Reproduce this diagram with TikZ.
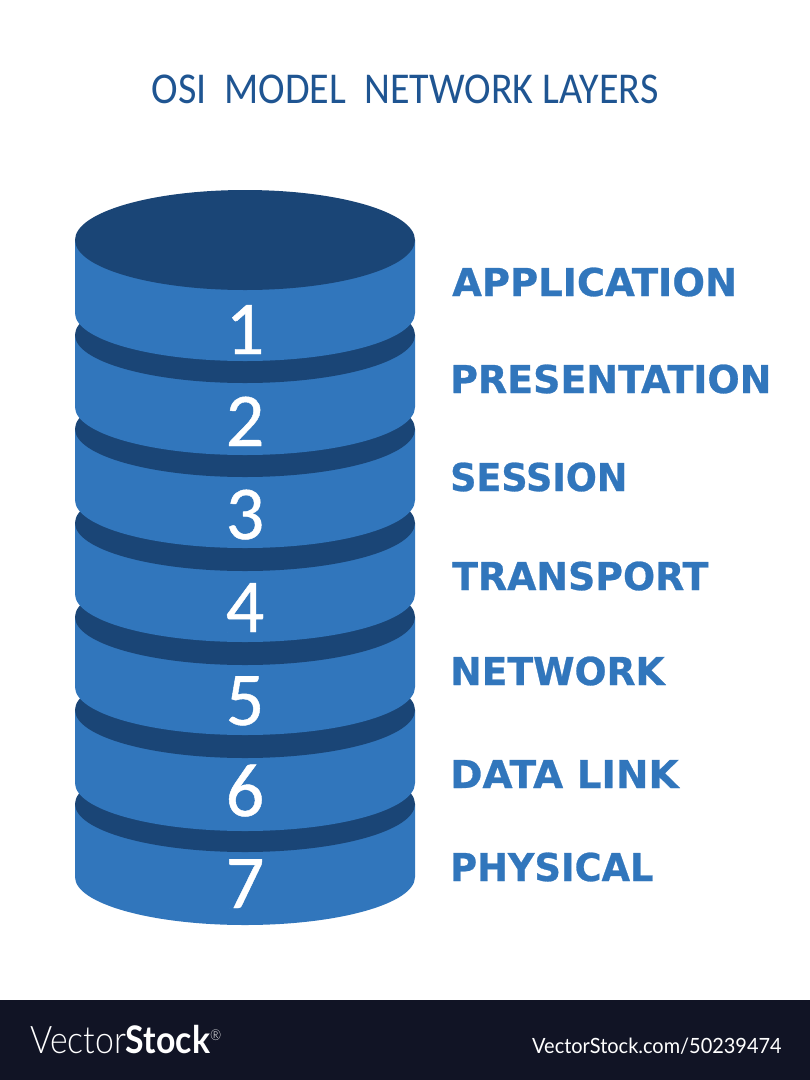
\documentclass[tikz,border=0pt]{standalone}
\usepackage{fontspec}
\setmainfont{Carlito}
\newfontfamily\titlefont[FakeStretch=0.91]{Carlito}
\newfontfamily\numfont[FakeBold=0.6]{Carlito}
\newfontfamily\labelfont[BoldFeatures={FakeBold=0.7}]{DejaVu Sans}
\newfontfamily\brandfont[FakeStretch=0.89,UprightFont=* Light,BoldFont=*-Bold]{Lato}
\newfontfamily\footfont[FakeStretch=0.95]{Lato}
\definecolor{layerblue}{HTML}{3176BC}
\definecolor{darkblue}{HTML}{1A4576}
\definecolor{titleblue}{HTML}{1F5592}
\definecolor{footbg}{HTML}{111425}
\tikzset{
  x=1pt,y=-1pt,
  numtext/.style={text=white,font=\numfont\fontsize{76}{76}\selectfont,anchor=base,inner sep=0pt},
  layertext/.style={text=layerblue,anchor=base west,inner sep=0pt,font=\labelfont\bfseries\fontsize{38.4}{38.4}\selectfont},
  foottext/.style={text=white,inner sep=0pt,anchor=base west},
}
\newcommand{\layerbody}[2]{% top y, side-bottom y
  \fill[layerblue] (75,#1) -- (415,#1) -- (415,#2)
    arc[start angle=0,end angle=180,x radius=170,y radius=48] -- cycle;
}
\newcommand{\layerdisc}[1]{\fill[darkblue] (245,#1) ellipse[x radius=170,y radius=48];}
\begin{document}
\begin{tikzpicture}
\useasboundingbox (0,0) rectangle (810,1080);
\fill[white] (0,0) rectangle (810,1080);
\fill[footbg] (0,1000) rectangle (810,1080);
\layerbody{804}{877}
\layerdisc{804}\layerbody{710}{783}
\layerdisc{710}\layerbody{617}{687}
\layerdisc{617}\layerbody{523}{594}
\layerdisc{523}\layerbody{429}{500}
\layerdisc{429}\layerbody{335}{407}
\layerdisc{335}\layerbody{240}{313}
\fill[darkblue] (245,240) ellipse[x radius=170,y radius=50];
\node[numtext] (n1) at (245,354) {1};
\node[numtext] (n2) at (245,446) {2};
\node[numtext] (n3) at (245,539) {3};
\node[numtext] (n4) at (245,632) {4};
\node[numtext] (n5) at (245,725) {5};
\node[numtext] (n6) at (245,816) {6};
\node[numtext] (n7) at (245,908) {7};
\node[layertext] (l1) at (452,296) {\scalebox{1}[1]{APPLICATION}};
\node[layertext] (l2) at (450,393) {\scalebox{0.988}[1]{PRESENTATION}};
\node[layertext] (l3) at (450,491) {\scalebox{0.95}[1]{SESSION}};
\node[layertext] (l4) at (452,590) {\scalebox{0.985}[1]{TRANSPORT}};
\node[layertext] (l5) at (450,685) {\scalebox{0.98}[1]{NETWORK}};
\node[layertext] (l6) at (450,788) {\scalebox{1.013}[1]{DATA LINK}};
\node[layertext] (l7) at (450,881) {\scalebox{0.957}[1]{PHYSICAL}};
\node[text=titleblue,anchor=base,inner sep=0pt,font=\titlefont\fontsize{44}{44}\selectfont] (title) at (405,103) {OSI\ \ MODEL\ \ NETWORK LAYERS};
\node[foottext,font=\brandfont\fontsize{38}{38}\selectfont] (brand) at (30,1053) {Vector\textbf{Stock}\raisebox{13pt}{\fontsize{15}{15}\selectfont ®}};
\node[foottext,font=\footfont\fontsize{21}{21}\selectfont] (ref) at (532,1053) {VectorStock.com/50239474};
\end{tikzpicture}
\end{document}
